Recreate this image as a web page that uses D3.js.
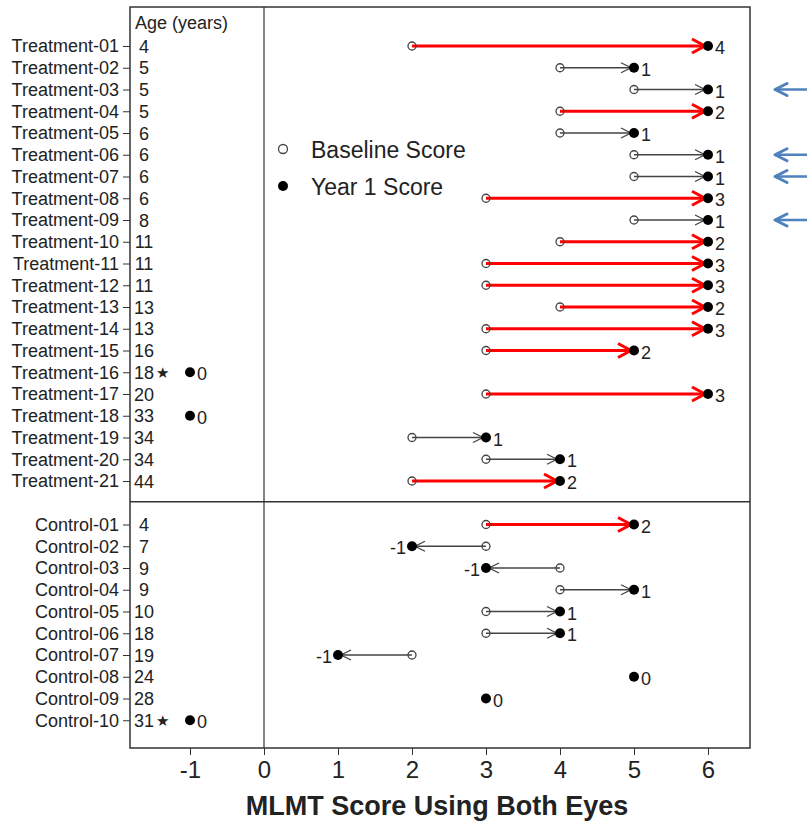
<!DOCTYPE html>
<html>
<head>
<meta charset="utf-8">
<script src="https://cdn.jsdelivr.net/npm/d3@7"></script>
<style>
  body { margin: 0; background: #fff; }
  text { font-family: "Liberation Sans", Arial, sans-serif; fill: #222; }
</style>
</head>
<body>
<div class="chart"></div>
<script>
const treatments = ['Treatment-01', 'Treatment-02', 'Treatment-03', 'Treatment-04', 'Treatment-05',
    'Treatment-06', 'Treatment-07', 'Treatment-08', 'Treatment-09', 'Treatment-10', 'Treatment-11',
    'Treatment-12', 'Treatment-13', 'Treatment-14', 'Treatment-15', 'Treatment-16', 'Treatment-17',
    'Treatment-18', 'Treatment-19', 'Treatment-20', 'Treatment-21'];
const controls = ['Control-01', 'Control-02', 'Control-03', 'Control-04', 'Control-05',
    'Control-06', 'Control-07', 'Control-08', 'Control-09', 'Control-10'];
const subjects = treatments.concat(controls);

const ages = [4, 5, 5, 5, 6, 6, 6, 6, 8, 11, 11, 11, 13, 13, 16, 18, 20, 33, 34, 34, 44,
    4, 7, 9, 9, 10, 18, 19, 24, 28, 31];
// null baseline = no baseline score, plotted at -1
const baseline = [2, 4, 5, 4, 4, 5, 5, 3, 5, 4, 3, 3, 4, 3, 3, null, 3, null, 2, 3, 2,
    3, 3, 4, 4, 3, 3, 2, 5, 3, null];
const year1 = [6, 5, 6, 6, 5, 6, 6, 6, 6, 6, 6, 6, 6, 6, 5, -1, 6, -1, 3, 4, 4,
    5, 2, 3, 5, 4, 4, 1, 5, 3, -1];
const change = [4, 1, 1, 2, 1, 1, 1, 3, 1, 2, 3, 3, 2, 3, 2, 0, 3, 0, 1, 1, 2,
    2, -1, -1, 1, 1, 1, -1, 0, 0, 0];
const starred = ['Treatment-16', 'Control-10'];
const flagged = ['Treatment-03', 'Treatment-06', 'Treatment-07', 'Treatment-09'];
const xTicks = [-1, 0, 1, 2, 3, 4, 5, 6];

const data = subjects.map((s, i) => ({
    subject: s, age: ages[i], base: baseline[i], y1: year1[i], change: change[i]
}));

const fullWidth = 807, fullHeight = 822;
const box = { left: 130, right: 750, top: 7, bottom: 748 };

const svg = d3.select('.chart')
    .append('svg')
        .attr('width', fullWidth)
        .attr('height', fullHeight);

const x = d3.scaleLinear()
    .domain([-1, 6])
    .range([190, 708]);

// spacer entry between the two groups
const y = d3.scalePoint()
    .domain(treatments.concat(['gap'], controls))
    .range([46, 720.25]);

// frame, divider, zero line
svg.append('rect')
    .attr('x', box.left)
    .attr('y', box.top)
    .attr('width', box.right - box.left)
    .attr('height', box.bottom - box.top)
    .attr('fill', 'none')
    .attr('stroke', '#333')
    .attr('stroke-width', 1.5);

svg.append('line')
    .attr('x1', box.left).attr('x2', box.right)
    .attr('y1', y('gap') - 1).attr('y2', y('gap') - 1)
    .attr('stroke', '#333')
    .attr('stroke-width', 1.5);

svg.append('line')
    .attr('x1', x(0)).attr('x2', x(0))
    .attr('y1', box.top).attr('y2', box.bottom)
    .attr('stroke', '#333')
    .attr('stroke-width', 1.2);

// axes
const yAxis = d3.axisLeft(y)
    .tickValues(subjects)
    .tickSize(7)
    .tickPadding(4);

svg.append('g')
    .attr('transform', `translate(${box.left}, 0)`)
    .call(yAxis)
    .call(g => g.select('.domain').remove())
    .call(g => g.selectAll('line').attr('stroke', '#333'))
    .selectAll('text')
        .style('font-size', '18px')
        .attr('fill', '#222');

const xAxis = d3.axisBottom(x)
    .tickValues(xTicks)
    .tickFormat(d => String(d))
    .tickSize(7)
    .tickPadding(6);

svg.append('g')
    .attr('transform', `translate(0, ${box.bottom})`)
    .call(xAxis)
    .call(g => g.select('.domain').remove())
    .call(g => g.selectAll('line').attr('stroke', '#333'))
    .selectAll('text')
        .style('font-size', '24px')
        .attr('fill', '#222');

svg.append('text')
    .attr('x', 437)
    .attr('y', 815)
    .attr('text-anchor', 'middle')
    .style('font-size', '27px')
    .style('font-weight', 'bold')
    .text('MLMT Score Using Both Eyes');

// age column
svg.append('text')
    .attr('x', 135)
    .attr('y', 29)
    .style('font-size', '18px')
    .text('Age (years)');

svg.selectAll('.age')
    .data(data)
    .enter()
    .append('text')
        .attr('class', 'age')
        .attr('x', 144)
        .attr('y', d => y(d.subject) + 6.5)
        .attr('text-anchor', 'middle')
        .style('font-size', '18px')
        .text(d => d.age);

svg.selectAll('.star')
    .data(data.filter(d => starred.includes(d.subject)))
    .enter()
    .append('text')
        .attr('class', 'star')
        .attr('x', 162)
        .attr('y', d => y(d.subject) + 5.5)
        .attr('text-anchor', 'middle')
        .style('font-size', '15px')
        .text('★');

// arrows
const moved = data.filter(d => d.base !== null && d.base !== d.y1);
const isBig = d => d.change >= 2;

svg.selectAll('.shaft')
    .data(moved)
    .enter()
    .append('line')
        .attr('class', 'shaft')
        .attr('x1', d => x(d.base))
        .attr('x2', d => x(d.y1) - Math.sign(d.y1 - d.base) * 3)
        .attr('y1', d => y(d.subject))
        .attr('y2', d => y(d.subject))
        .attr('stroke', d => isBig(d) ? '#f00' : '#444')
        .attr('stroke-width', d => isBig(d) ? 3 : 1.3);

svg.selectAll('.head')
    .data(moved)
    .enter()
    .append('path')
        .attr('class', 'head')
        .attr('d', d => {
            const dir = Math.sign(d.y1 - d.base);
            const tip = x(d.y1) - dir * 3;
            const len = isBig(d) ? 13 : 10;
            const h = isBig(d) ? 7 : 5;
            const cy = y(d.subject);
            return `M${tip - dir * len},${cy - h}L${tip},${cy}L${tip - dir * len},${cy + h}`;
        })
        .attr('fill', 'none')
        .attr('stroke', d => isBig(d) ? '#f00' : '#444')
        .attr('stroke-width', d => isBig(d) ? 3 : 1.3)
        .attr('stroke-linejoin', 'miter');

svg.selectAll('.base')
    .data(data.filter(d => d.base !== null && d.base !== d.y1))
    .enter()
    .append('circle')
        .attr('class', 'base')
        .attr('cx', d => x(d.base))
        .attr('cy', d => y(d.subject))
        .attr('r', 4)
        .attr('fill', 'none')
        .attr('stroke', '#444')
        .attr('stroke-width', 1.3);

svg.selectAll('.y1')
    .data(data)
    .enter()
    .append('circle')
        .attr('class', 'y1')
        .attr('cx', d => x(d.y1))
        .attr('cy', d => y(d.subject))
        .attr('r', 5)
        .attr('fill', '#000');

svg.selectAll('.change')
    .data(data)
    .enter()
    .append('text')
        .attr('class', 'change')
        .attr('x', d => d.change < 0 ? x(d.y1) - 6 : x(d.y1) + 7)
        .attr('y', d => y(d.subject) + 8)
        .attr('text-anchor', d => d.change < 0 ? 'end' : 'start')
        .style('font-size', '18px')
        .text(d => d.change);

// legend
const legend = [
    { label: 'Baseline Score', filled: false },
    { label: 'Year 1 Score', filled: true }
];

const leg = svg.selectAll('.legend')
    .data(legend)
    .enter()
    .append('g')
        .attr('class', 'legend')
        .attr('transform', (d, i) => `translate(283, ${149 + i * 37})`);

leg.append('circle')
    .attr('r', d => d.filled ? 5 : 4.5)
    .attr('fill', d => d.filled ? '#000' : 'none')
    .attr('stroke', d => d.filled ? 'none' : '#444')
    .attr('stroke-width', 1.3);

leg.append('text')
    .attr('x', 28)
    .attr('y', 8.5)
    .style('font-size', '23px')
    .text(d => d.label);

// blue call-out arrows outside the frame
const callouts = svg.selectAll('.callout')
    .data(flagged)
    .enter()
    .append('g')
        .attr('class', 'callout')
        .attr('transform', d => `translate(0, ${y(d)})`);

callouts.append('line')
    .attr('x1', 775).attr('x2', 810)
    .attr('stroke', '#4f81bd')
    .attr('stroke-width', 2.5);

callouts.append('path')
    .attr('d', 'M787,-6L775,0L787,6')
    .attr('fill', 'none')
    .attr('stroke', '#4f81bd')
    .attr('stroke-width', 3)
    .attr('stroke-linejoin', 'round')
    .attr('stroke-linecap', 'round');
</script>
</body>
</html>
